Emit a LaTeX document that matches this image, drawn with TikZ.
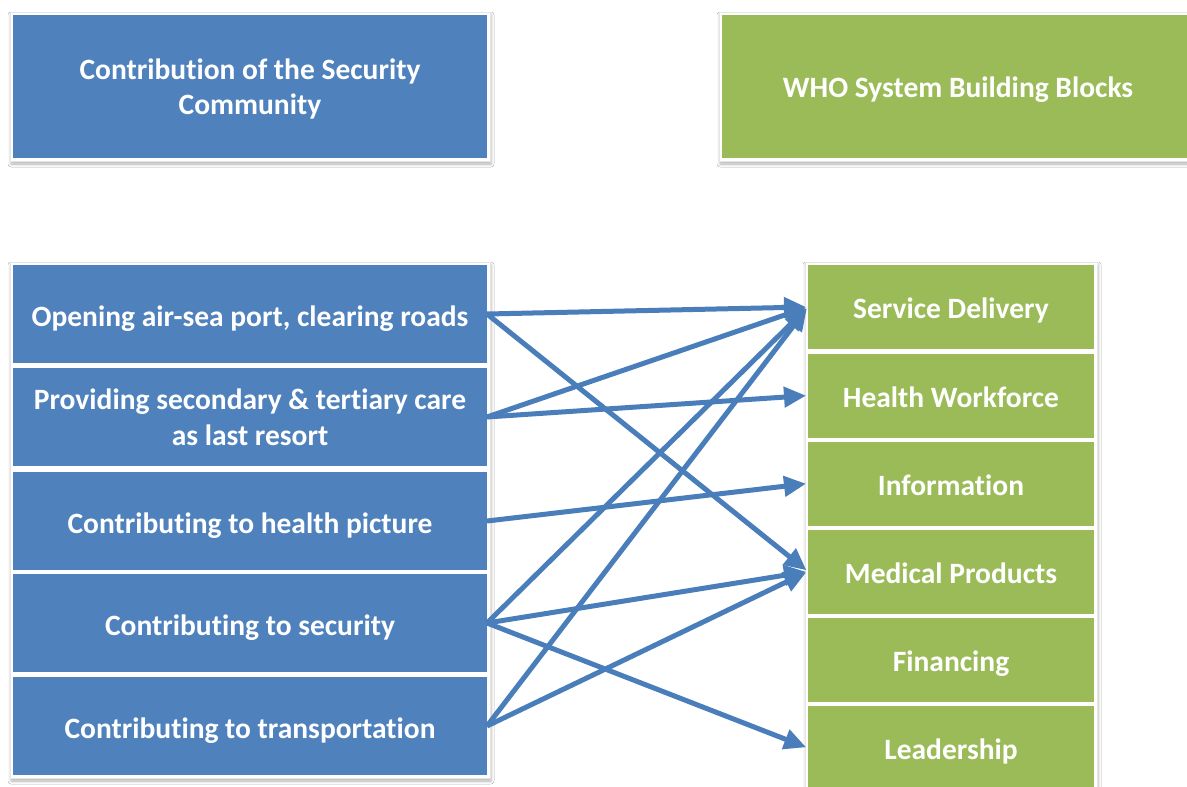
\documentclass[tikz,border=0pt]{standalone}
\usepackage{fontspec}
\setmainfont{Carlito}[RawFeature=-liga]
\usetikzlibrary{arrows.meta,shadows.blur}
\definecolor{boxblue}{HTML}{4F81BD}
\definecolor{boxgreen}{HTML}{9BBB59}
\definecolor{arrowblue}{HTML}{4A7EBB}
\newcommand\mytopstrut{\rule{0pt}{27pt}}
\newcommand\mybotstrut{\rule[-6pt]{0pt}{6pt}}
\tikzset{
  x=1pt,y=-1pt,
  lbox/.style={fill=boxblue,draw=none,minimum width=474pt,minimum height=98pt,outer sep=0pt,
    text=white,font=\bfseries\fontsize{29.5}{35.5}\selectfont,align=center,inner sep=0pt,
    text height=25pt,text depth=0pt},
  twoline/.style={text height=,text depth=},
  rbox/.style={fill=boxgreen,draw=none,minimum width=286pt,minimum height=84pt,outer sep=0pt,
    text=white,font=\bfseries\fontsize{29.5}{35.5}\selectfont,align=center,inner sep=0pt,
    text height=23pt,text depth=0pt},
  frame/.style={fill=white,draw=gray!20,line width=0.6pt,
    blur shadow={shadow xshift=1pt,shadow yshift=-3pt,shadow blur radius=3pt,shadow opacity=30}},
  conn/.style={draw=arrowblue,line width=5pt,-{Triangle[length=22pt,width=20pt]},shorten >=2pt},
}
\begin{document}
\begin{tikzpicture}
\clip (0,0) rectangle (1187,787);
\fill[white] (0,0) rectangle (1187,787);
% frames
\draw[frame] (10,12) rectangle (490,161);
\draw[frame] (719,12) rectangle (1210,161);
\draw[frame] (10,262) rectangle (490,778);
\draw[frame] (805,262) rectangle (1097,800);
% title boxes
\node[lbox,twoline,minimum height=143pt] (t1) at (250,86.5) {\mytopstrut Contribution of the Security\\Community\mybotstrut};
\node[rbox,minimum width=472pt,minimum height=143pt,text height=22pt] (t2) at (958,86.5) {WHO System Building Blocks};
% left boxes
\node[lbox] (o1) at (250,314) {Opening air-sea port, clearing roads};
\node[lbox,twoline] (o2) at (250,417) {\mytopstrut Providing secondary \& tertiary care\\as last resort\mybotstrut};
\node[lbox] (o3) at (250,521) {Contributing to health picture};
\node[lbox] (o4) at (250,623) {Contributing to security};
\node[lbox] (o5) at (250,726) {Contributing to transportation};
% right boxes
\node[rbox] (sd) at (951,307) {Service Delivery};
\node[rbox] (hw) at (951,395.5) {Health Workforce};
\node[rbox] (inf) at (951,483.5) {Information};
\node[rbox] (mp) at (951,571.5) {Medical Products};
\node[rbox] (fin) at (951,659.5) {Financing};
\node[rbox] (lead) at (951,748) {Leadership};
% connectors
\draw[conn] (o1.east) -- (sd.west);
\draw[conn] (o1.east) -- (mp.west);
\draw[conn] (o2.east) -- (sd.west);
\draw[conn] (o2.east) -- (hw.west);
\draw[conn] (o3.east) -- (inf.west);
\draw[conn] (o4.east) -- (sd.west);
\draw[conn] (o4.east) -- (mp.west);
\draw[conn] (o4.east) -- (lead.west);
\draw[conn] (o5.east) -- (sd.west);
\draw[conn] (o5.east) -- (mp.west);
\end{tikzpicture}
\end{document}
